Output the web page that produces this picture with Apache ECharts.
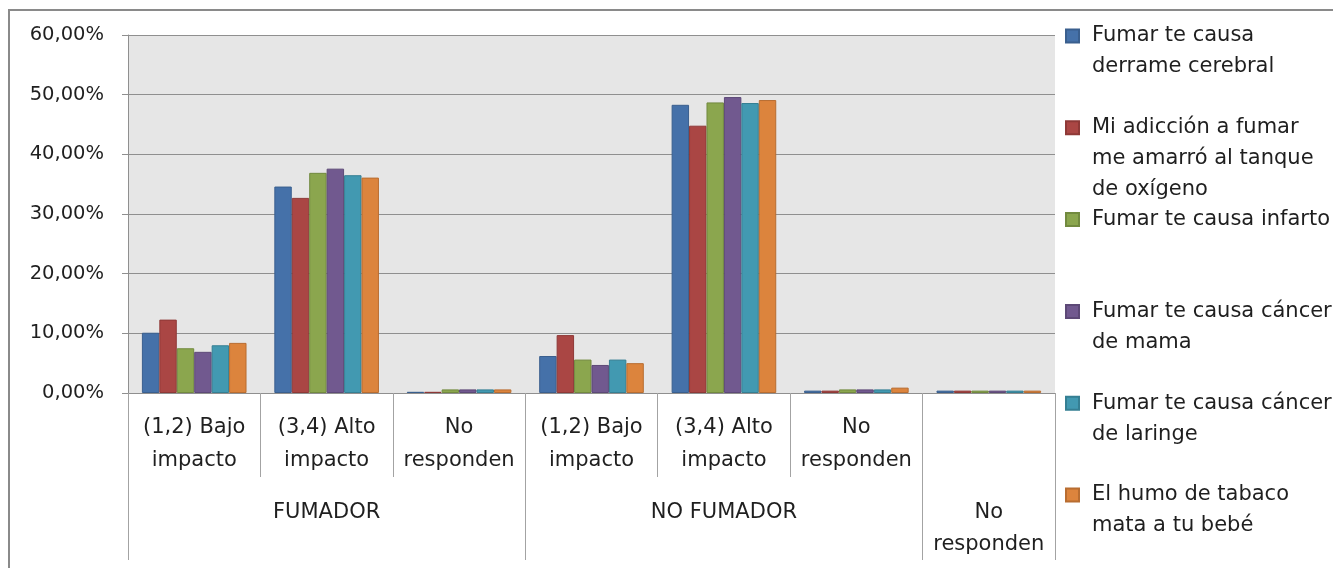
<!DOCTYPE html>
<html>
<head>
<meta charset="utf-8">
<script src="https://cdn.jsdelivr.net/npm/echarts@6/dist/echarts.min.js"></script>
<style>
  html, body { margin: 0; padding: 0; background: #ffffff; }
  #chart { width: 1333px; height: 568px; }
</style>
</head>
<body>
<div id="chart"></div>
<script>
// Response categories (first axis level) and the groups they belong to (second level)
const categories = [
  '(1,2) Bajo\nimpacto', '(3,4) Alto\nimpacto', 'No\nresponden',
  '(1,2) Bajo\nimpacto', '(3,4) Alto\nimpacto', 'No\nresponden',
  ''
];
const groupNames = ['FUMADOR', 'NO FUMADOR', 'No\nresponden'];
const groupSpans = [3, 3, 1];

// Percentages per warning message
const seriesNames = [
  'Fumar te causa derrame cerebral',
  'Mi adicción a fumar me amarró al tanque de oxígeno',
  'Fumar te causa infarto',
  'Fumar te causa cáncer de mama',
  'Fumar te causa cáncer de laringe',
  'El humo de tabaco mata a tu bebé'
];
const legendLabels = [
  'Fumar te causa\nderrame cerebral',
  'Mi adicción a fumar\nme amarró al tanque\nde oxígeno',
  'Fumar te causa infarto',
  'Fumar te causa cáncer\nde mama',
  'Fumar te causa cáncer\nde laringe',
  'El humo de tabaco\nmata a tu bebé'
];
const derrame  = [10.1, 34.6, 0.2, 6.2, 48.3, 0.4, 0.4];
const adiccion = [12.3, 32.7, 0.2, 9.7, 44.8, 0.4, 0.4];
const infarto  = [7.5, 36.9, 0.6, 5.6, 48.7, 0.6, 0.4];
const mama     = [6.9, 37.6, 0.6, 4.7, 49.6, 0.6, 0.4];
const laringe  = [8.0, 36.5, 0.6, 5.6, 48.6, 0.6, 0.4];
const bebe     = [8.4, 36.1, 0.6, 5.0, 49.1, 0.9, 0.4];
const seriesValues = [derrame, adiccion, infarto, mama, laringe, bebe];

const yTicks = { min: 0, max: 60, interval: 10 };

const fills   = ['#4571a9', '#aa4644', '#8ba64e', '#71598f', '#4299b1', '#dc843d'];
const borders = ['#3a5f8e', '#8e3937', '#728a3f', '#5d4977', '#357f93', '#b86d31'];

const FONT = 'DejaVu Sans';
const TEXT = '#1f1f1f';
const LINE = '#8f8f8f';

// group boundaries and centres along the 0..7 category span
const groupEdges = [0];
groupSpans.forEach(s => groupEdges.push(groupEdges[groupEdges.length - 1] + s));
const groupCenters = groupSpans.map((s, i) => groupEdges[i] + s / 2);

const chart = echarts.init(document.getElementById('chart'), null, { renderer: 'canvas' });

// one legend block per series so each icon lines up with the first text line
const legendLineH = 31;
const legendFirst = 36;
const legendStep = 91.8;
const legends = seriesNames.map((name, i) => {
  const n = legendLabels[i].split('\n').length;
  const padded = '\n'.repeat(n - 1) + legendLabels[i];
  const centre = legendFirst + legendStep * i;
  return {
    data: [name],
    orient: 'vertical',
    left: 1065,
    top: centre - (2 * n - 1) * legendLineH / 2,
    padding: 0,
    itemWidth: 13,
    itemHeight: 13,
    icon: 'rect',
    selectedMode: false,
    formatter: () => padded,
    textStyle: {
      fontFamily: FONT, fontSize: 21, color: TEXT,
      lineHeight: legendLineH, padding: [0, 0, 0, 8]
    }
  };
});

const option = {
  backgroundColor: '#ffffff',
  animation: false,
  graphic: [{
    type: 'rect',
    shape: { x: 9, y: 10, width: 1400, height: 620 },
    style: { fill: 'none', stroke: '#8a8a8a', lineWidth: 2 },
    silent: true,
    z: -10
  }],
  legend: legends,
  grid: {
    left: 128, right: 278, top: 35, bottom: 175,
    show: true, backgroundColor: '#e6e6e6', borderWidth: 0
  },
  xAxis: [{
    type: 'category',
    data: categories,
    position: 'bottom',
    boundaryGap: true,
    axisLine: { show: true, lineStyle: { color: LINE, width: 1 } },
    axisTick: { show: true, interval: 0, length: 84, lineStyle: { color: '#a3a3a3', width: 1 } },
    axisLabel: {
      interval: 0, margin: 18, fontFamily: FONT, fontSize: 21,
      lineHeight: 33, color: TEXT
    },
    splitLine: { show: false }
  }, {
    type: 'value',
    min: 0, max: groupEdges[groupEdges.length - 1],
    position: 'bottom',
    offset: 0,
    axisLine: { show: false },
    axisTick: {
      show: true, length: 167, customValues: groupEdges,
      lineStyle: { color: '#a3a3a3', width: 1 }
    },
    axisLabel: {
      show: true, customValues: groupCenters, margin: 104,
      fontFamily: FONT, fontSize: 21, lineHeight: 32, color: TEXT,
      formatter: (v) => {
        const idx = groupCenters.findIndex(c => Math.abs(c - v) < 1e-6);
        return idx >= 0 ? groupNames[idx] : '';
      }
    },
    splitLine: { show: false }
  }],
  yAxis: {
    type: 'value',
    min: yTicks.min, max: yTicks.max, interval: yTicks.interval,
    axisLine: { show: true, lineStyle: { color: LINE, width: 1 } },
    axisTick: { show: true, length: 6, lineStyle: { color: LINE } },
    axisLabel: {
      margin: 24, fontFamily: FONT, fontSize: 19.5, color: TEXT,
      formatter: (v) => v.toFixed(2).replace('.', ',') + '%'
    },
    splitLine: { show: true, lineStyle: { color: LINE, width: 1.2 } }
  },
  series: seriesNames.map((name, i) => ({
    name: name,
    type: 'bar',
    xAxisIndex: 0,
    data: seriesValues[i],
    barGap: '0%',
    barCategoryGap: '21%',
    itemStyle: { color: fills[i], borderColor: borders[i], borderWidth: 1 }
  }))
};

chart.setOption(option);
</script>
</body>
</html>
